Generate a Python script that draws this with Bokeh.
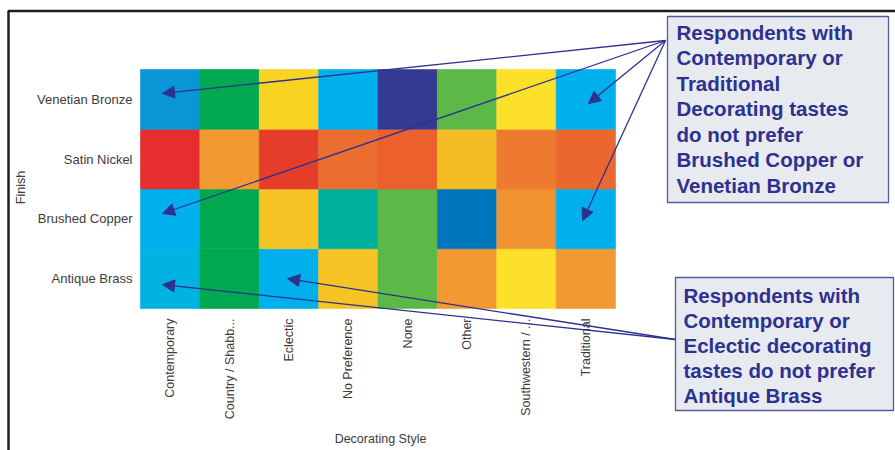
import math

from bokeh.core.properties import value
from bokeh.embed import file_html
from bokeh.models import Arrow, ColumnDataSource, LinearColorMapper, NormalHead, Range1d
from bokeh.plotting import figure
from bokeh.resources import INLINE
from bokeh.transform import transform

# ---- data -------------------------------------------------------------
styles = ["Contemporary", "Country / Shabb...", "Eclectic", "No Preference",
          "None", "Other", "Southwestern / ...", "Traditional"]
finishes = ["Antique Brass", "Brushed Copper", "Satin Nickel", "Venetian Bronze"]  # bottom -> top

# preference score index per decorating style (cold = low, hot = high)
antique_brass = [4, 6, 3, 10, 7, 12, 8, 12]
brushed_copper = [3, 6, 10, 5, 7, 1, 13, 3]
satin_nickel = [19, 12, 18, 15, 17, 11, 14, 16]
venetian_bronze = [2, 6, 9, 3, 0, 7, 8, 3]

palette = ["#353A92", "#0077BD", "#0A96D6", "#00B0EC", "#00B3E0", "#00B09E",
           "#00A94F", "#5DB947", "#FDE02A", "#F8D324", "#F6C425", "#F4BD24",
           "#F29A31", "#F19232", "#EE7A30", "#EB6E30", "#EB6730", "#EB602D",
           "#E43D2A", "#E62E2E"]

note_top = ["Respondents with", "Contemporary or", "Traditional",
            "Decorating tastes", "do not prefer", "Brushed Copper or",
            "Venetian Bronze"]
note_bottom = ["Respondents with", "Contemporary or", "Eclectic decorating",
               "tastes do not prefer", "Antique Brass"]

# ---- geometry (canvas pixels) ------------------------------------------
W, H = 895, 450
GX0, GX1, GY0, GY1 = 140, 615, 69, 308           # heat-map area
CW = (GX1 - GX0) / len(styles)
RH = (GY1 - GY0) / len(finishes)


def dx(px):
    return (px - GX0) / CW


def dy(py):
    return (GY1 - py) / RH


p = figure(width=W, height=H, output_backend="svg", toolbar_location=None,
           x_range=Range1d(dx(0), dx(W)), y_range=Range1d(dy(H), dy(0)),
           x_axis_location=None, y_axis_location=None, min_border=0,
           outline_line_color=None, background_fill_color="white",
           border_fill_color="white")
p.grid.visible = False

# ---- heat map -----------------------------------------------------------
rows = [antique_brass, brushed_copper, satin_nickel, venetian_bronze]
xs, ys, sc = [], [], []
for j, row in enumerate(rows):
    for i, s in enumerate(row):
        xs.append(i + 0.5)
        ys.append(j + 0.5)
        sc.append(s)
src = ColumnDataSource(dict(x=xs, y=ys, score=sc))
mapper = LinearColorMapper(palette=palette, low=-0.5, high=len(palette) - 0.5)
p.rect(x="x", y="y", width=1, height=1, source=src,
       fill_color=transform("score", mapper),
       line_color=transform("score", mapper), line_width=0.6)

LABEL_FONT = value("Liberation Sans")
LABEL_COLOR = "#3c3c3c"

# category labels
p.text(x=[dx(GX0 - 8)] * len(finishes), y=[j + 0.5 for j in range(len(finishes))],
       text=finishes, text_font=LABEL_FONT, text_font_size="13px",
       text_color=LABEL_COLOR, text_align="right", text_baseline="middle")
p.text(x=[i + 0.5 for i in range(len(styles))], y=[dy(GY1 + 10)] * len(styles),
       text=styles, angle=math.pi / 2, text_font=LABEL_FONT,
       text_font_size="12.5px", text_color=LABEL_COLOR,
       text_align="right", text_baseline="middle")

# axis titles
p.text(x=[dx(20)], y=[dy(187)], text=["Finish"], angle=math.pi / 2,
       text_font=LABEL_FONT, text_font_size="12.5px", text_color=LABEL_COLOR,
       text_align="center", text_baseline="middle")
p.text(x=[dx(380)], y=[dy(438)], text=["Decorating Style"],
       text_font=LABEL_FONT, text_font_size="12.5px", text_color=LABEL_COLOR,
       text_align="center", text_baseline="middle")

# outer frame (left and top edges)
p.line(x=[dx(8), dx(8), dx(W)], y=[dy(H), dy(10.5), dy(10.5)],
       line_color="#1e1e1e", line_width=2.5)

# ---- callouts -----------------------------------------------------------
NAVY = "#2D3190"
p.quad(left=[dx(667), dx(675)], right=[dx(888), dx(893)],
       top=[dy(16), dy(277)], bottom=[dy(202), dy(410)],
       fill_color="#E7EBF0", line_color="#5559A0", line_width=1.3)


def note_lines(lines, left, first_base, step):
    return dict(x=[dx(left)] * len(lines),
                y=[dy(first_base + k * step) for k in range(len(lines))],
                text=lines)


for lines, left, base, step in [(note_top, 676, 32, 25.45),
                                (note_bottom, 683, 294.5, 25.0)]:
    p.text(x="x", y="y", text="text", source=ColumnDataSource(note_lines(lines, left, base, step)),
           text_font=LABEL_FONT, text_font_style="bold", text_font_size="20.5px",
           text_color=NAVY, text_align="left", text_baseline="alphabetic")

# arrows from each callout to the cells it describes
pointers = [
    ((665, 40), "Contemporary", "Venetian Bronze", 0.37, 0.60),
    ((665, 40), "Contemporary", "Brushed Copper", 0.37, 0.59),
    ((665, 40), "Traditional", "Venetian Bronze", 0.545, 0.43),
    ((665, 40), "Traditional", "Brushed Copper", 0.445, 0.47),
    ((675, 339), "Contemporary", "Antique Brass", 0.37, 0.40),
    ((675, 339), "Eclectic", "Antique Brass", 0.476, 0.50),
]
for (ox, oy), style, finish, fx, fy in pointers:
    p.add_layout(Arrow(
        x_start=dx(ox), y_start=dy(oy),
        x_end=styles.index(style) + fx, y_end=finishes.index(finish) + fy,
        line_color=NAVY, line_width=1.3,
        end=NormalHead(size=12, fill_color=NAVY, line_color=NAVY, line_width=1)))

open("out.html", "w").write(file_html(p, INLINE))
